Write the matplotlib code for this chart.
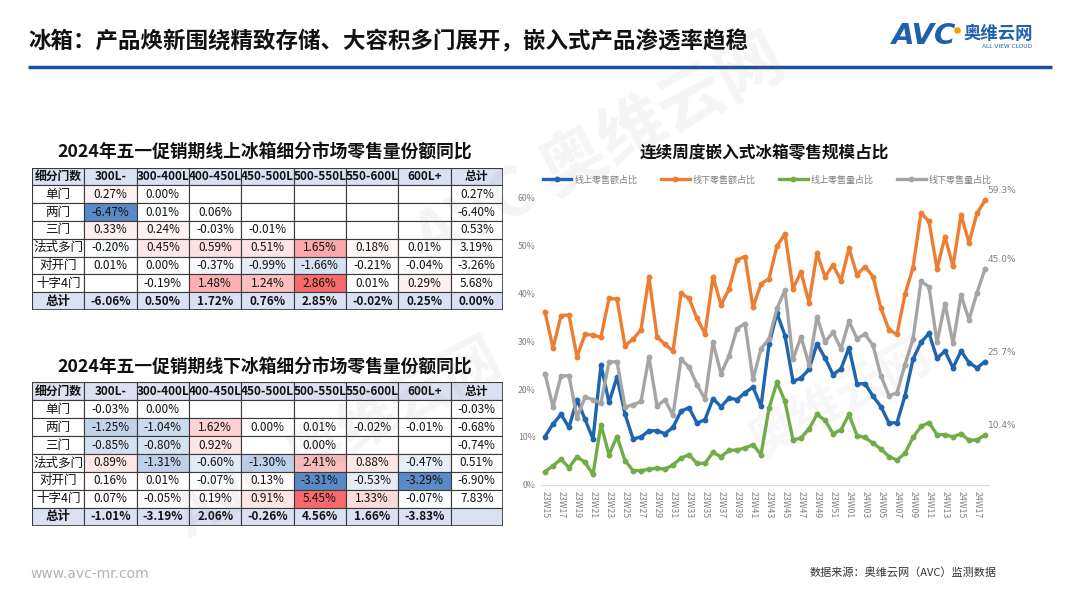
import numpy as np
import matplotlib
matplotlib.use('Agg')
import matplotlib.pyplot as plt
from matplotlib.patches import Rectangle
from matplotlib.colors import to_rgb

plt.rcParams['font.family'] = ['Noto Sans CJK SC', 'DejaVu Sans']

# ---- data ----
seg_cols = ['细分门数', '300L-', '300-400L', '400-450L', '450-500L',
            '500-550L', '550-600L', '600L+', '总计']
door_rows = ['单门', '两门', '三门', '法式多门', '对开门', '十字4门', '总计']

online_share = [
    [0.27, 0.00, None, None, None, None, None, 0.27],
    [-6.47, 0.01, 0.06, None, None, None, None, -6.40],
    [0.33, 0.24, -0.03, -0.01, None, None, None, 0.53],
    [-0.20, 0.45, 0.59, 0.51, 1.65, 0.18, 0.01, 3.19],
    [0.01, 0.00, -0.37, -0.99, -1.66, -0.21, -0.04, -3.26],
    [None, -0.19, 1.48, 1.24, 2.86, 0.01, 0.29, 5.68],
    [-6.06, 0.50, 1.72, 0.76, 2.85, -0.02, 0.25, 0.00],
]
offline_share = [
    [-0.03, 0.00, None, None, None, None, None, -0.03],
    [-1.25, -1.04, 1.62, 0.00, 0.01, -0.02, -0.01, -0.68],
    [-0.85, -0.80, 0.92, None, 0.00, None, None, -0.74],
    [0.89, -1.31, -0.60, -1.30, 2.41, 0.88, -0.47, 0.51],
    [0.16, 0.01, -0.07, 0.13, -3.31, -0.53, -3.29, -6.90],
    [0.07, -0.05, 0.19, 0.91, 5.45, 1.33, -0.07, 7.83],
    [-1.01, -3.19, 2.06, -0.26, 4.56, 1.66, -3.83, None],
]

weeks = ['23W%02d' % w for w in range(15, 53)] + ['24W%02d' % w for w in range(1, 19)]

online_amt = [10.1, 12.7, 14.7, 12.0, 17.8, 13.7, 9.6, 25.0, 17.2, 22.5,
              14.8, 9.6, 10.0, 11.3, 11.3, 10.7, 12.0, 15.4, 16.1, 12.9,
              13.6, 18.0, 16.3, 18.1, 17.8, 19.2, 20.4, 16.4, 29.3, 35.8,
              31.1, 21.6, 22.3, 24.1, 29.4, 26.5, 23.0, 24.2, 28.6, 21.1,
              21.1, 18.5, 16.3, 12.9, 13.0, 18.6, 26.2, 29.7, 31.6, 26.4,
              27.9, 24.4, 27.9, 25.5, 24.4, 25.7]
offline_amt = [36.1, 28.5, 35.3, 35.4, 26.7, 31.4, 31.2, 30.8, 38.9, 38.7,
               29.0, 30.4, 32.3, 43.3, 30.9, 29.3, 27.9, 39.9, 38.9, 34.7,
               31.5, 43.4, 37.5, 40.8, 46.9, 47.6, 37.0, 41.9, 43.0, 49.8,
               52.3, 40.9, 44.4, 38.0, 48.3, 43.4, 45.8, 42.6, 49.3, 43.8,
               45.5, 43.4, 36.8, 32.3, 31.4, 39.7, 45.3, 56.7, 54.9, 45.1,
               51.7, 45.6, 56.3, 50.5, 56.6, 59.3]
online_vol = [2.8, 4.0, 5.4, 3.6, 5.9, 4.7, 2.2, 12.6, 6.3, 10.1,
              5.1, 3.0, 3.0, 3.3, 3.5, 3.3, 4.2, 5.6, 6.3, 4.5,
              4.5, 6.8, 5.9, 7.2, 7.3, 7.7, 8.4, 6.3, 16.0, 21.4,
              17.4, 9.4, 9.8, 11.7, 14.7, 13.5, 10.7, 11.5, 14.7, 10.3,
              9.9, 8.7, 7.5, 5.9, 5.2, 6.6, 9.9, 12.2, 13.0, 10.5,
              10.5, 10.0, 10.7, 9.3, 9.4, 10.4]
offline_vol = [23.2, 16.3, 22.7, 22.8, 14.0, 18.3, 17.8, 17.1, 25.6, 25.7,
               16.3, 16.7, 17.4, 26.7, 16.5, 17.7, 14.5, 26.2, 24.6, 20.9,
               17.9, 29.7, 23.2, 26.9, 32.6, 33.6, 22.0, 28.4, 30.4, 36.8,
               40.6, 26.2, 30.9, 25.1, 35.0, 29.8, 31.8, 28.4, 34.1, 30.5,
               31.4, 29.1, 22.7, 18.6, 19.2, 25.1, 30.4, 42.4, 41.3, 29.7,
               37.8, 29.5, 39.6, 34.4, 40.1, 45.0]

W, H = 1080, 608
fig = plt.figure(figsize=(W / 100, H / 100), dpi=100)
fig.patch.set_facecolor('white')

def px_rect(x0, y0, x1, y1):
    return [x0 / W, 1 - y1 / H, (x1 - x0) / W, (y1 - y0) / H]

# background layer for slide texts
bg = fig.add_axes([0, 0, 1, 1])
bg.set_xlim(0, W)
bg.set_ylim(H, 0)
bg.axis('off')

bg.text(28, 42, '冰箱：产品焕新围绕精致存储、大容积多门展开，嵌入式产品渗透率趋稳',
        fontsize=16.2, fontweight='bold', va='center', ha='left', color='#111111')
bg.plot([28, 1052], [67, 67], color='#1f4e9a', lw=2.5, solid_capstyle='butt')
bg.text(892, 36, 'AVC', fontsize=21, fontweight='bold', style='italic',
        color='#1f5fae', va='center', ha='left', family='DejaVu Sans')
bg.scatter([957], [30], s=14, color='#f39c12', zorder=3)
bg.text(964, 34, '奥维云网', fontsize=12.5, fontweight='bold', color='#1f5fae',
        va='center', ha='left')
bg.text(1007, 47, 'ALL VIEW CLOUD', fontsize=4.2, color='#1f5fae',
        va='center', ha='center', family='DejaVu Sans')
bg.text(30, 574, 'www.avc-mr.com', fontsize=10, color='#b3b3b3',
        va='center', ha='left', family='DejaVu Sans')
bg.text(810, 573, '数据来源：奥维云网（AVC）监测数据', fontsize=8,
        color='#333333', va='center', ha='left')

# ---- tables ----
blue_end = np.array(to_rgb('#5a8ac6'))
red_end = np.array(to_rgb('#f8696b'))
white = np.array([1.0, 1.0, 1.0])
head_bg = '#d9e1f2'

def heat(v, vmin, vmax):
    if v >= 0:
        t = v / vmax
        return white + (red_end - white) * t
    t = v / vmin
    return white + (blue_end - white) * t

def draw_table(top, bottom, title, data):
    bg.text(265, top - 15, title, fontsize=12.8, fontweight='bold',
            ha='center', va='center', color='#111111')
    ax = fig.add_axes(px_rect(32, top, 503, bottom))
    ncol = len(seg_cols)
    nrow = len(door_rows) + 1
    ax.set_xlim(0, ncol)
    ax.set_ylim(nrow, 0)
    ax.axis('off')
    inner = [v for r in data[:-1] for v in r[:-1] if v is not None]
    vmin, vmax = min(inner), max(inner)
    # header row
    for j, c in enumerate(seg_cols):
        ax.add_patch(Rectangle((j, 0), 1, 1, facecolor=head_bg,
                               edgecolor='#3a3a3a', lw=0.8))
        ax.text(j + 0.5, 0.5, c, ha='center', va='center', fontsize=8.5,
                fontweight='bold', color='#111111')
    for i, rname in enumerate(door_rows):
        r = i + 1
        is_total = rname == '总计'
        fc0 = head_bg if is_total else 'white'
        ax.add_patch(Rectangle((0, r), 1, 1, facecolor=fc0,
                               edgecolor='#3a3a3a', lw=0.8))
        ax.text(0.5, r + 0.5, rname, ha='center', va='center', fontsize=9,
                fontweight='bold' if is_total else 'normal', color='#111111')
        for j, v in enumerate(data[i]):
            col = j + 1
            if is_total:
                fc = head_bg
            elif v is not None and col < ncol - 1:
                fc = heat(v, vmin, vmax)
            else:
                fc = 'white'
            ax.add_patch(Rectangle((col, r), 1, 1, facecolor=fc,
                                   edgecolor='#3a3a3a', lw=0.8))
            if v is not None:
                ax.text(col + 0.5, r + 0.5, '%.2f%%' % v, ha='center',
                        va='center', fontsize=8.5,
                        fontweight='bold' if is_total else 'normal',
                        color='#111111')
    ax.add_patch(Rectangle((0, 0), ncol, nrow, fill=False,
                           edgecolor='#3a3a3a', lw=1.2))

draw_table(167.7, 310, '2024年五一促销期线上冰箱细分市场零售量份额同比', online_share)
draw_table(382.3, 525.7, '2024年五一促销期线下冰箱细分市场零售量份额同比', offline_share)

# ---- line chart ----
bg.text(764, 153, '连续周度嵌入式冰箱零售规模占比', fontsize=12,
        fontweight='bold', ha='center', va='center', color='#111111')

ax = fig.add_axes(px_rect(541, 197, 989, 485))
x = np.arange(len(weeks))
series = [
    ('线上零售额占比', online_amt, '#1f64b0'),
    ('线下零售额占比', offline_amt, '#ed7d31'),
    ('线上零售量占比', online_vol, '#70ad47'),
    ('线下零售量占比', offline_vol, '#a5a5a5'),
]
handles = []
for name, vals, c in series:
    h, = ax.plot(x, vals, color=c, lw=2.4, marker='o', ms=3.2,
                 label=name, clip_on=False)
    handles.append(h)
    ax.annotate('%.1f%%' % vals[-1], (x[-1], vals[-1]), xytext=(2, 5),
                textcoords='offset points', fontsize=6.5, color='#7f7f7f',
                family='DejaVu Sans')

ax.set_xlim(-0.5, len(weeks) - 0.5)
ax.set_ylim(0, 60)
ax.set_yticks([0, 10, 20, 30, 40, 50, 60])
ax.set_yticklabels(['%d%%' % v for v in [0, 10, 20, 30, 40, 50, 60]])
ax.set_xticks(x[::2])
ax.set_xticklabels(weeks[::2], rotation=-90)
ax.tick_params(axis='both', length=0, labelsize=6.3, labelcolor='#7f7f7f', pad=4)
for s in ['top', 'right', 'left']:
    ax.spines[s].set_visible(False)
ax.spines['bottom'].set_color('#d9d9d9')
ax.patch.set_alpha(0)

fig.legend(handles=handles, loc='center', bbox_to_anchor=(767 / W, 1 - 180 / H),
           ncol=4, frameon=False, fontsize=6.5, handlelength=3.2,
           columnspacing=2.6, handletextpad=0.3, labelcolor='#7f7f7f')

# faint watermarks
wm = fig.add_axes([0, 0, 1, 1], zorder=10)
wm.set_xlim(0, W)
wm.set_ylim(H, 0)
wm.axis('off')
wm.text(600, 150, 'AVC 奥维云网', fontsize=48, fontweight='bold', color='#7f7f7f',
        alpha=0.08, rotation=28, ha='center', va='center')
wm.text(340, 440, 'AVC 奥维云网', fontsize=42, fontweight='bold', color='#7f7f7f',
        alpha=0.08, rotation=28, ha='center', va='center')
wm.text(840, 400, '奥维云网', fontsize=36, fontweight='bold', color='#7f7f7f',
        alpha=0.06, rotation=28, ha='center', va='center')

fig.savefig('out.png', dpi=100)
